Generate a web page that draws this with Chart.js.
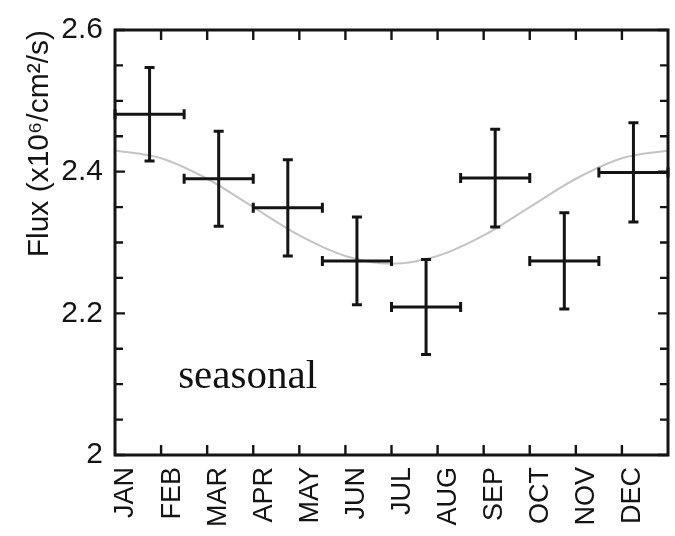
<!DOCTYPE html>
<html>
<head>
<meta charset="utf-8">
<script src="https://cdn.jsdelivr.net/npm/chart.js@4.4.1/dist/chart.umd.min.js"></script>
<style>
  html, body { margin: 0; padding: 0; background: #fff; }
  #wrap { width: 675px; height: 536px; }
</style>
</head>
<body>
<div id="wrap"><canvas id="chart" width="675" height="536"></canvas></div>
<script>
// Month labels, one at each month start (x in months from 1 Jan)
const months = ['JAN', 'FEB', 'MAR', 'APR', 'MAY', 'JUN', 'JUL', 'AUG', 'SEP', 'OCT', 'NOV', 'DEC'];
const monthStarts = [0, 1, 2, 3, 4, 5, 6, 7, 8, 9, 10, 11];
const monthTickMarks = [1, 2, 3, 4, 5, 6, 7, 8, 9, 10, 11];

// Binned flux measurements (8 bins of 1.5 months)
const binCenters = [0.75, 2.25, 3.75, 5.25, 6.75, 8.25, 9.75, 11.25];
const binHalfWidth = [0.75, 0.75, 0.75, 0.75, 0.75, 0.75, 0.75, 0.75];
const flux = [2.481, 2.390, 2.349, 2.274, 2.209, 2.391, 2.274, 2.399];
const fluxErr = [0.066, 0.067, 0.068, 0.062, 0.067, 0.069, 0.068, 0.070];

// Seasonal fit curve at each month start
const curveMonths = [0, 1, 2, 3, 4, 5, 6, 7, 8, 9, 10, 11, 12];
const curveFlux = [2.430, 2.419, 2.390, 2.350, 2.310, 2.281, 2.270, 2.281, 2.310, 2.350, 2.390, 2.419, 2.430];

// Y axis ticks
const yMajorTicks = [2, 2.2, 2.4, 2.6];
const yMinorTicks = [2.05, 2.1, 2.15, 2.25, 2.3, 2.35, 2.45, 2.5, 2.55];

// Annotation
const noteText = 'seasonal';
const noteAt = { x: 1.37, y: 2.095 };

const INK = '#141414';
const CAP = 5;

/**
 * Draws error bars, inward tick marks, the frame and the annotation
 */
const errorBarsAndFrame = {
  id: 'errorBarsAndFrame',
  afterDatasetsDraw(chart) {
    const { ctx, chartArea: a, scales: { x, y } } = chart;
    ctx.save();
    ctx.strokeStyle = INK;
    ctx.lineCap = 'butt';

    // error bars
    ctx.lineWidth = 3;
    binCenters.forEach((m, i) => {
      const cx = x.getPixelForValue(m);
      const cy = y.getPixelForValue(flux[i]);
      const x0 = x.getPixelForValue(m - binHalfWidth[i]);
      const x1 = x.getPixelForValue(m + binHalfWidth[i]);
      const y0 = y.getPixelForValue(flux[i] + fluxErr[i]);
      const y1 = y.getPixelForValue(flux[i] - fluxErr[i]);
      ctx.beginPath();
      ctx.moveTo(x0, cy); ctx.lineTo(x1, cy);
      ctx.moveTo(cx, y0); ctx.lineTo(cx, y1);
      ctx.moveTo(cx - CAP, y0); ctx.lineTo(cx + CAP, y0);
      ctx.moveTo(cx - CAP, y1); ctx.lineTo(cx + CAP, y1);
      ctx.moveTo(x0, cy - CAP); ctx.lineTo(x0, cy + CAP);
      ctx.moveTo(x1, cy - CAP); ctx.lineTo(x1, cy + CAP);
      ctx.stroke();
    });

    // inward tick marks
    ctx.lineWidth = 2.4;
    ctx.beginPath();
    monthTickMarks.forEach(m => {
      const px = x.getPixelForValue(m);
      ctx.moveTo(px, a.bottom); ctx.lineTo(px, a.bottom - 10);
      ctx.moveTo(px, a.top); ctx.lineTo(px, a.top + 10);
    });
    yMajorTicks.forEach(v => {
      const py = y.getPixelForValue(v);
      ctx.moveTo(a.left, py); ctx.lineTo(a.left + 10, py);
      ctx.moveTo(a.right, py); ctx.lineTo(a.right - 10, py);
    });
    yMinorTicks.forEach(v => {
      const py = y.getPixelForValue(v);
      ctx.moveTo(a.left, py); ctx.lineTo(a.left + 8, py);
      ctx.moveTo(a.right, py); ctx.lineTo(a.right - 8, py);
    });
    ctx.stroke();

    // frame
    ctx.lineWidth = 3;
    ctx.strokeRect(a.left, a.top, a.width, a.height);

    // annotation
    ctx.fillStyle = '#111';
    ctx.font = '41px "Liberation Serif", "Times New Roman", serif';
    ctx.textAlign = 'left';
    ctx.textBaseline = 'alphabetic';
    ctx.fillText(noteText, x.getPixelForValue(noteAt.x), y.getPixelForValue(noteAt.y));
    ctx.restore();
  }
};

const ctx = document.getElementById('chart').getContext('2d');
new Chart(ctx, {
  type: 'line',
  data: {
    datasets: [{
      label: 'fit',
      data: curveMonths.map((m, i) => ({ x: m, y: curveFlux[i] })),
      borderColor: '#c4c4c4',
      borderWidth: 2,
      pointRadius: 0,
      cubicInterpolationMode: 'monotone',
      fill: false,
    }],
  },
  options: {
    responsive: false,
    animation: false,
    events: [],
    layout: { padding: { top: 25, right: 7, left: 0, bottom: 0 } },
    plugins: {
      legend: { display: false },
      tooltip: { enabled: false },
    },
    scales: {
      x: {
        type: 'linear',
        min: 0,
        max: 12,
        afterBuildTicks: scale => { scale.ticks = monthStarts.map(v => ({ value: v })); },
        afterFit: scale => { scale.height = 81; },
        grid: { display: false, drawTicks: false },
        border: { display: false },
        ticks: {
          autoSkip: false,
          minRotation: 90,
          maxRotation: 90,
          padding: 12,
          labelOffset: 11,
          color: '#141414',
          font: { family: '"Liberation Sans", Arial, sans-serif', size: 27 },
          callback: v => months[v],
        },
      },
      y: {
        type: 'linear',
        min: 2,
        max: 2.6,
        afterBuildTicks: scale => { scale.ticks = yMajorTicks.map(v => ({ value: v })); },
        afterFit: scale => { scale.width = 115; },
        grid: { display: false, drawTicks: false },
        border: { display: false },
        ticks: {
          padding: 12,
          color: '#141414',
          font: { family: '"Liberation Sans", Arial, sans-serif', size: 30 },
          callback: v => String(v),
        },
        title: {
          display: true,
          text: 'Flux (x10⁶/cm²/s)',
          align: 'end',
          color: '#141414',
          padding: { top: 22, bottom: 0 },
          font: { family: '"Liberation Sans", Arial, sans-serif', size: 30 },
        },
      },
    },
  },
  plugins: [errorBarsAndFrame],
});
</script>
</body>
</html>
